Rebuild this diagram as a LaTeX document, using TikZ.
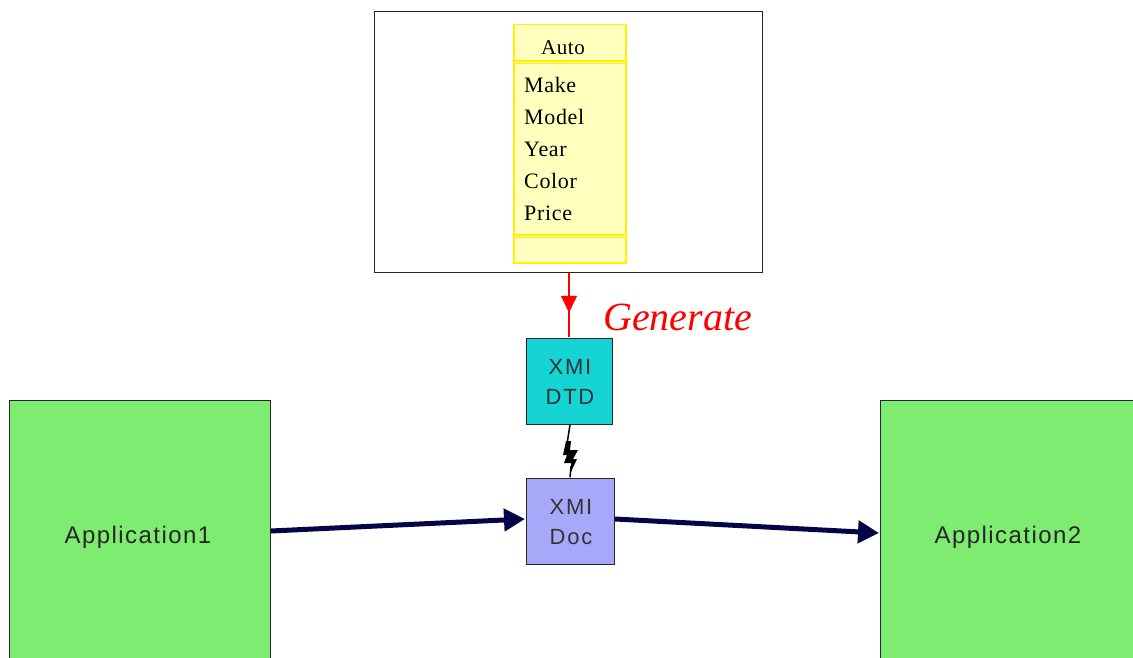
\documentclass[tikz,border=0pt]{standalone}
\usepackage{fontspec}
\setmainfont{Liberation Serif}
\setsansfont{Liberation Sans}
\usetikzlibrary{arrows.meta,decorations.markings}
\definecolor{appgreen}{RGB}{125,236,112}
\definecolor{dtdcyan}{RGB}{20,212,212}
\definecolor{doclav}{RGB}{168,168,250}
\definecolor{clsyel}{RGB}{255,255,190}
\definecolor{navyline}{RGB}{5,5,70}
\tikzset{
  blk/.style={draw=black!85, line width=1.3pt, inner sep=0pt, anchor=north west},
  apptext/.style={font=\sffamily\fontsize{24}{26}\selectfont\addfontfeature{LetterSpace=6}, text=black!85},
  xmitext/.style={font=\sffamily\fontsize{22}{24}\selectfont\addfontfeature{LetterSpace=8}, text=black!80, align=center},
  attr/.style={font=\fontsize{22}{24}\selectfont\addfontfeature{LetterSpace=3}, anchor=base west, inner sep=0pt},
  flow/.style={draw=navyline, line width=5pt, -{Triangle[length=21pt,width=22pt]}},
}
\begin{document}
\begin{tikzpicture}[x=1pt,y=-1pt]
\useasboundingbox (0,0) rectangle (1133,658);
% frame with class
\node[blk, fill=white, minimum width=388pt, minimum height=261pt] (frame) at (374,11) {};
\node[draw=yellow, line width=1.5pt, fill=clsyel, inner sep=0pt, anchor=north west, minimum width=112pt, minimum height=238pt] (cls) at (513,24) {};
\draw[yellow, line width=1.2pt] (513,61) -- (625,61) (513,63.5) -- (625,63.5);
\draw[yellow, line width=1.2pt] (513,235) -- (625,235) (513,237.5) -- (625,237.5);
\node[font=\fontsize{21}{24}\selectfont\addfontfeature{LetterSpace=3}, anchor=base, inner sep=0pt] (auto) at (563,55) {Auto};
\node[attr] (make) at (524,93) {Make};
\node[attr] (model) at (524,125) {Model};
\node[attr] (year) at (524,157) {Year};
\node[attr] (color) at (524,189) {Color};
\node[attr] (price) at (524,220) {Price};
% DTD
\node[blk, fill=dtdcyan, minimum width=86pt, minimum height=86pt] (dtd) at (526,338) {};
\node[xmitext] (dtdtext) at (570,382) {XMI\\[6pt]DTD};
% Doc
\node[blk, fill=doclav, minimum width=88pt, minimum height=86pt] (doc) at (526,478) {};
\node[xmitext] (doctext) at (571,522) {XMI\\[6pt]Doc};
% Generate arrow
\coordinate (gtop) at (569,272.7);
\coordinate (gbot) at (569,337.3);
\draw[red, line width=1.3pt, postaction={decorate},
  decoration={markings, mark=at position 0.62 with {\arrow{Triangle[length=17pt,width=16pt]}}}] (gtop) -- (gbot);
\node[text=red, font=\itshape\fontsize{40}{42}\selectfont, anchor=base west, inner sep=0pt] (gen) at (603,330) {Generate};
% lightning
\coordinate (ltop) at (570,424.7);
\coordinate (lbot) at (570,477.3);
\draw[black, line width=1.5pt] (ltop) -- (567,444) (571,466) -- (lbot);
\fill[black] (566,441) -- (571,441) -- (570,450) -- (578,450) -- (573,459) -- (577,459) -- (571,472) -- (571,463) -- (564,463) -- (567,455) -- (563,455) -- cycle;
% applications
\node[blk, fill=appgreen, minimum width=261pt, minimum height=262pt] (app1) at (9,400) {};
\node[apptext] (app1t) at (138,537) {Application1};
\node[blk, fill=appgreen, minimum width=262pt, minimum height=262pt] (app2) at (880,400) {};
\node[apptext] (app2t) at (1008,537) {Application2};
% flows
\coordinate (a1out) at (271,531);
\coordinate (docin) at (525,519);
\coordinate (docout) at (615,519);
\coordinate (a2in) at (879,533);
\draw[flow] (a1out) -- (docin);
\draw[flow] (docout) -- (a2in);
\end{tikzpicture}
\end{document}
